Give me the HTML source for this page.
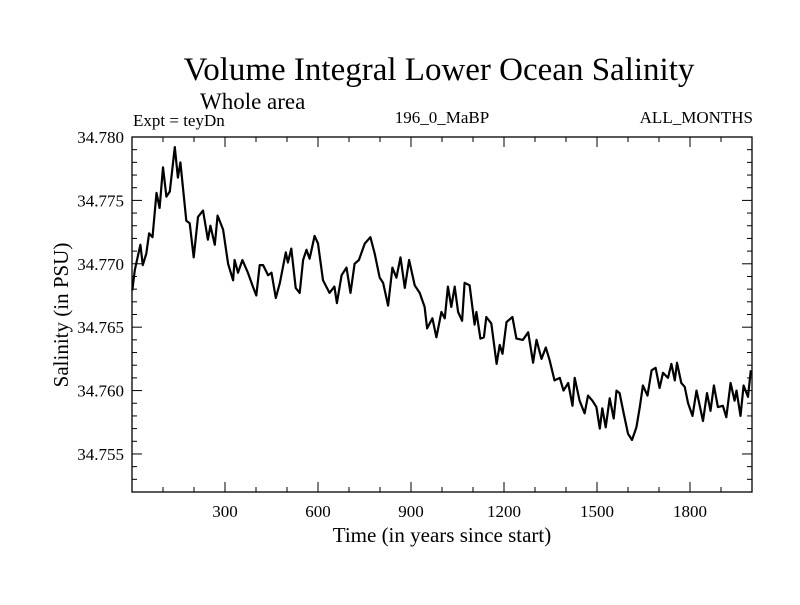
<!DOCTYPE html>
<html><head><meta charset="utf-8"><style>
html,body{margin:0;padding:0;background:#fff;}
svg text{font-family:"Liberation Serif",serif;fill:#000;}
</style></head><body>
<svg id="chart" width="800" height="600" xmlns="http://www.w3.org/2000/svg">
<text x="439" y="80" font-size="33" text-anchor="middle">Volume Integral Lower Ocean Salinity</text>
<text x="200" y="109" font-size="23">Whole area</text>
<text x="133" y="126" font-size="17">Expt = teyDn</text>
<text x="442" y="123" font-size="17" text-anchor="middle">196_0_MaBP</text>
<text x="753" y="123" font-size="17" text-anchor="end">ALL_MONTHS</text>
<text transform="translate(68,315) rotate(-90)" font-size="21" text-anchor="middle">Salinity (in PSU)</text>
<text x="442" y="542" font-size="21" text-anchor="middle">Time (in years since start)</text>
<g id="axes"></g>
<g id="series"></g>
</svg>
<script>
const years=[1,9,17,27,35,46,55,66,79,89,100,111,122,138,148,156,175,186,199,213,229,245,253,267,276,294,310,326,331,342,356,374,390,401,412,423,439,450,464,477,496,503,514,528,541,552,563,573,589,600,616,637,653,661,676,692,705,718,732,751,769,783,799,810,826,840,853,866,880,894,912,928,944,952,969,982,998,1009,1019,1030,1041,1052,1065,1073,1089,1105,1111,1124,1135,1143,1159,1176,1186,1195,1208,1227,1240,1261,1278,1294,1305,1321,1335,1347,1363,1380,1392,1407,1421,1428,1444,1460,1471,1485,1498,1509,1517,1528,1541,1554,1563,1573,1586,1600,1613,1627,1638,1648,1663,1676,1689,1702,1713,1729,1740,1751,1758,1772,1783,1794,1808,1821,1842,1855,1866,1877,1890,1906,1917,1931,1944,1950,1963,1973,1987,1996];
const salinity=[34.7679,34.7695,34.7704,34.7715,34.7699,34.7708,34.7724,34.7721,34.7756,34.7744,34.7776,34.7753,34.7757,34.7792,34.7768,34.7780,34.7734,34.7732,34.7705,34.7737,34.7742,34.7719,34.7730,34.7715,34.7738,34.7727,34.7700,34.7687,34.7703,34.7693,34.7703,34.7693,34.7682,34.7675,34.7699,34.7699,34.7691,34.7693,34.7673,34.7685,34.7709,34.7701,34.7712,34.7681,34.7677,34.7703,34.7711,34.7704,34.7722,34.7716,34.7687,34.7677,34.7682,34.7669,34.7691,34.7697,34.7677,34.7700,34.7703,34.7716,34.7721,34.7708,34.7689,34.7685,34.7667,34.7697,34.7689,34.7705,34.7681,34.7703,34.7683,34.7677,34.7666,34.7649,34.7657,34.7642,34.7662,34.7657,34.7682,34.7666,34.7682,34.7662,34.7655,34.7685,34.7683,34.7652,34.7662,34.7641,34.7642,34.7658,34.7653,34.7621,34.7636,34.7629,34.7654,34.7658,34.7641,34.7640,34.7646,34.7622,34.7640,34.7625,34.7634,34.7624,34.7608,34.7610,34.7600,34.7606,34.7588,34.7610,34.7592,34.7582,34.7596,34.7592,34.7587,34.7570,34.7586,34.7571,34.7594,34.7578,34.7600,34.7598,34.7582,34.7566,34.7561,34.7571,34.7587,34.7604,34.7596,34.7616,34.7618,34.7602,34.7614,34.7610,34.7621,34.7608,34.7622,34.7606,34.7603,34.7590,34.7580,34.7600,34.7576,34.7598,34.7584,34.7604,34.7587,34.7588,34.7579,34.7606,34.7592,34.7600,34.7580,34.7604,34.7595,34.7616];
const xTicks=[300,600,900,1200,1500,1800];
const yTicks=[34.755,34.760,34.765,34.770,34.775,34.780];
const xMin=0,xMax=2000,yMin=34.752,yMax=34.780;
const L=132,R=752,T=137,B=492;
const NS="http://www.w3.org/2000/svg";
const sx=v=>L+(v-xMin)/(xMax-xMin)*(R-L);
const sy=v=>B-(v-yMin)/(yMax-yMin)*(B-T);
const axes=document.getElementById('axes');
function mk(tag,attrs,parent){const e=document.createElementNS(NS,tag);for(const k in attrs)e.setAttribute(k,attrs[k]);parent.appendChild(e);return e;}
const frame=mk('rect',{x:L,y:T,width:R-L,height:B-T,fill:'none',stroke:'#000','stroke-width':1.3},axes);


for(let v=100;v<xMax;v+=100){
  const major=v%300===0;const len=major?10:5;const x=sx(v);
  const t1=mk('line',{x1:x,y1:B,x2:x,y2:B-len,stroke:'#000','stroke-width':1},axes);
  
  
  const t2=mk('line',{x1:x,y1:T,x2:x,y2:T+len,stroke:'#000','stroke-width':1},axes);
  
  
}
xTicks.forEach(v=>{
  const t=mk('text',{x:sx(v),y:B+25,'font-size':17,'text-anchor':'middle'},axes);t.textContent=v;
  
  
});
for(let i=0;i<=28;i++){
  const v=yMin+i*0.001;if(v>yMax+1e-9)break;
  const major=Math.abs(Math.round(v*1000)%5)===0;const len=major?10:5;const y=sy(v);
  const t1=mk('line',{x1:L,y1:y,x2:L+len,y2:y,stroke:'#000','stroke-width':1},axes);
  
  
  const t2=mk('line',{x1:R,y1:y,x2:R-len,y2:y,stroke:'#000','stroke-width':1},axes);
  
  
}
yTicks.forEach(v=>{
  const t=mk('text',{x:L-8,y:sy(v)+6,'font-size':17,'text-anchor':'end'},axes);t.textContent=v.toFixed(3);
  
  
});
const pts=years.map((y,i)=>sx(y).toFixed(1)+','+sy(salinity[i]).toFixed(1)).join(' ');
const line=mk('polyline',{points:pts,fill:'none',stroke:'#000','stroke-width':2.2,'stroke-linejoin':'round'},document.getElementById('series'));


</script>
</body></html>
